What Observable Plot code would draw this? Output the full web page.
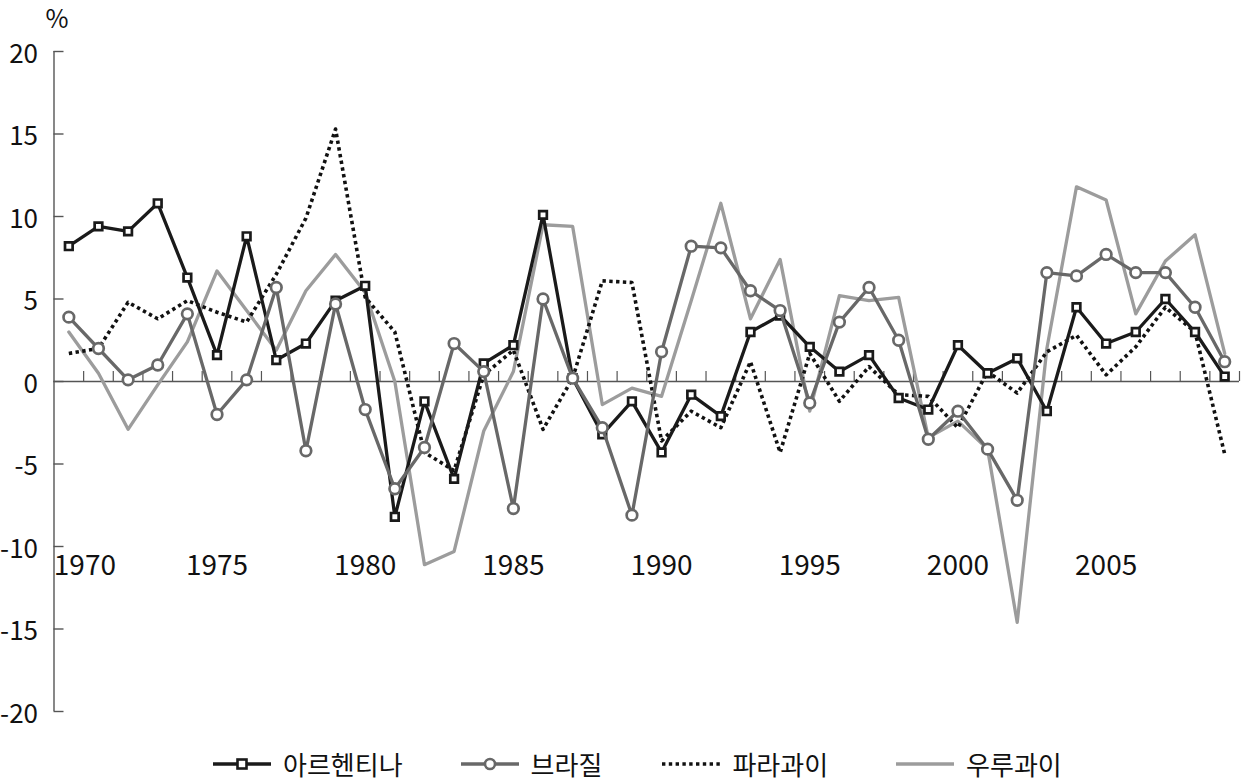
<!DOCTYPE html>
<html>
<head>
<meta charset="utf-8">
<script src="https://cdn.jsdelivr.net/npm/d3@7"></script>
<script src="https://cdn.jsdelivr.net/npm/@observablehq/plot@0.6"></script>
<style>
  html, body { margin: 0; padding: 0; background: #fff; }
  body { width: 1241px; height: 783px; overflow: hidden; font-family: "Noto Sans CJK KR", "Noto Sans", sans-serif; }
  #legend { display: flex; align-items: center; height: 38px; padding-left: 213px; font-size: 26px; line-height: 26px; color: #111; }
  .item { display: flex; align-items: center; }
  .item svg { margin-right: 12px; }
</style>
</head>
<body>
<div id="chart"></div>
<div id="legend"></div>
<script>
// ---- data ----
const years = [1970,1971,1972,1973,1974,1975,1976,1977,1978,1979,
               1980,1981,1982,1983,1984,1985,1986,1987,1988,1989,
               1990,1991,1992,1993,1994,1995,1996,1997,1998,1999,
               2000,2001,2002,2003,2004,2005,2006,2007,2008,2009];
const argentina = [8.2, 9.4, 9.1, 10.8, 6.3, 1.6, 8.8, 1.3, 2.3, 4.9,
                   5.8, -8.2, -1.2, -5.9, 1.1, 2.2, 10.1, 0.2, -3.2, -1.2,
                   -4.3, -0.8, -2.1, 3.0, 4.0, 2.1, 0.6, 1.6, -1.0, -1.7,
                   2.2, 0.5, 1.4, -1.8, 4.5, 2.3, 3.0, 5.0, 3.0, 0.3];
const brazil = [3.9, 2.0, 0.1, 1.0, 4.1, -2.0, 0.1, 5.7, -4.2, 4.7,
                -1.7, -6.5, -4.0, 2.3, 0.6, -7.7, 5.0, 0.2, -2.8, -8.1,
                1.8, 8.2, 8.1, 5.5, 4.3, -1.3, 3.6, 5.7, 2.5, -3.5,
                -1.8, -4.1, -7.2, 6.6, 6.4, 7.7, 6.6, 6.6, 4.5, 1.2];
const paraguay = [1.7, 2.0, 4.8, 3.8, 4.9, 4.2, 3.6, 6.5, 9.9, 15.3,
                  5.1, 3.0, -4.3, -5.4, 0.4, 1.9, -2.9, 0.2, 6.1, 6.0,
                  -3.6, -1.8, -2.8, 1.2, -4.3, 1.7, -1.2, 0.9, -0.8, -0.9,
                  -2.8, 0.6, -0.7, 1.8, 2.8, 0.4, 2.1, 4.5, 3.0, -4.4];
const uruguay = [3.0, 0.5, -2.9, -0.2, 2.4, 6.7, 4.3, 1.9, 5.5, 7.7,
                 5.4, 0.0, -11.1, -10.3, -3.0, 0.6, 9.5, 9.4, -1.4, -0.4,
                 -0.9, 4.9, 10.8, 3.8, 7.4, -1.8, 5.2, 4.9, 5.1, -3.4,
                 -2.4, -4.1, -14.6, 2.0, 11.8, 11.0, 4.1, 7.3, 8.9, 1.7];
const seriesNames = ["아르헨티나", "브라질", "파라과이", "우루과이"];
const yTicks = [-20, -15, -10, -5, 0, 5, 10, 15, 20];
const yearLabels = [1970, 1975, 1980, 1985, 1990, 1995, 2000, 2005];
const unitLabel = "%";

// ---- layout / style ----
const W = 1241, H = 745;
const mL = 53.5, mR = 2, mT = 51, mB = 34;
const innerW = W - mL - mR, innerH = H - mT - mB;
const axisColor = "#555";
const colArg = "#1a1a1a", colBra = "#686868", colPar = "#111", colUru = "#9c9c9c";
const dash = "3.4,3.4";
const xDomain = [years[0] - 0.5, years[years.length - 1] + 0.5];
const yDomain = [yTicks[0], yTicks[yTicks.length - 1]];
const zeroFromTop = innerH * (yDomain[1] - 0) / (yDomain[1] - yDomain[0]);
const bounds = years.map(y => y + 0.5);

const rows = s => years.map((yr, i) => ({year: yr, v: s[i]}));
const A = rows(argentina), B = rows(brazil), P = rows(paraguay), U = rows(uruguay);

const chart = Plot.plot({
  width: W, height: H,
  marginLeft: mL, marginRight: mR, marginTop: mT, marginBottom: mB,
  style: {fontFamily: "'Noto Sans CJK KR', 'Noto Sans', sans-serif", color: "#111", background: "#fff"},
  x: {domain: xDomain, axis: null},
  y: {domain: yDomain, axis: null},
  marks: [
    // axes
    Plot.ruleX([xDomain[0]], {stroke: axisColor, strokeWidth: 1.4}),
    Plot.ruleY([0], {stroke: axisColor, strokeWidth: 1.4}),
    Plot.tickY(yTicks, {y: d => d, stroke: axisColor, strokeWidth: 1.4, insetRight: innerW - 10}),
    Plot.tickX(bounds, {x: d => d, stroke: axisColor, strokeWidth: 1.2, insetTop: zeroFromTop - 10, insetBottom: innerH - zeroFromTop}),
    Plot.axisY(yTicks, {label: null, tickSize: 0, tickPadding: 16, tickFormat: d => String(d), fontSize: 26, fill: "#111", dy: 3}),
    Plot.text(yearLabels.slice(0, 1), {x: d => d, text: d => String(d), frameAnchor: "bottom", dy: -137, textAnchor: "start", dx: -15, fontSize: 28, fill: "#111"}),
    Plot.text(yearLabels.slice(1), {x: d => d, text: d => String(d), frameAnchor: "bottom", dy: -137, fontSize: 28, fill: "#111"}),
    Plot.text([unitLabel], {frameAnchor: "top-left", textAnchor: "middle", lineAnchor: "middle", dx: 3, dy: -32, fontSize: 25, fill: "#111"}),
    // series
    Plot.line(U, {x: "year", y: "v", stroke: colUru, strokeWidth: 3.3}),
    Plot.line(P, {x: "year", y: "v", stroke: colPar, strokeWidth: 3.6, strokeDasharray: dash, strokeLinecap: "butt"}),
    Plot.line(A, {x: "year", y: "v", stroke: colArg, strokeWidth: 3.3}),
    Plot.dot(A, {x: "year", y: "v", symbol: "square", r: 4.3, stroke: colArg, strokeWidth: 2.7, fill: "#fff"}),
    Plot.line(B, {x: "year", y: "v", stroke: colBra, strokeWidth: 3.3}),
    Plot.dot(B, {x: "year", y: "v", symbol: "circle", r: 5.3, stroke: colBra, strokeWidth: 2.7, fill: "#fff"})
  ]
});
document.getElementById("chart").appendChild(chart);

// ---- legend ----
const legendSpecs = [
  {name: seriesNames[0], color: colArg, dash: null, marker: "square", gap: 58},
  {name: seriesNames[1], color: colBra, dash: null, marker: "circle", gap: 60},
  {name: seriesNames[2], color: colPar, dash: dash, marker: null, gap: 68},
  {name: seriesNames[3], color: colUru, dash: null, marker: null, gap: 0}
];
const legend = document.getElementById("legend");
for (const s of legendSpecs) {
  const item = document.createElement("div");
  item.className = "item";
  item.style.marginRight = s.gap + "px";
  let svg = `<svg width="58" height="16" viewBox="0 0 58 16"><line x1="0" y1="8" x2="58" y2="8" stroke="${s.color}" stroke-width="3.6"${s.dash ? ` stroke-dasharray="${s.dash}"` : ""}/>`;
  if (s.marker === "square") svg += `<rect x="24.5" y="3.5" width="9" height="9" fill="#fff" stroke="${s.color}" stroke-width="2.6"/>`;
  if (s.marker === "circle") svg += `<circle cx="29" cy="8" r="5" fill="#fff" stroke="${s.color}" stroke-width="2.6"/>`;
  svg += `</svg>`;
  item.innerHTML = svg + `<span>${s.name}</span>`;
  legend.appendChild(item);
}
</script>
</body>
</html>
